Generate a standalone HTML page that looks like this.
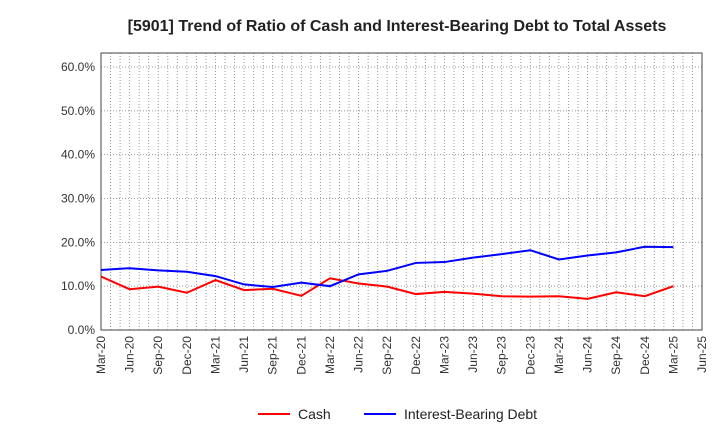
<!DOCTYPE html>
<html><head><meta charset="utf-8"><style>
body{margin:0;background:#fff;font-family:"Liberation Sans",sans-serif;}
</style></head><body>
<svg id="chart" width="720" height="440" xmlns="http://www.w3.org/2000/svg">
<text x="397" y="31" text-anchor="middle" font-size="16" font-weight="bold" fill="#222">[5901]  Trend of Ratio of Cash and Interest-Bearing Debt to Total Assets</text>
<g id="grid"></g>
<g id="axes"></g>
<g id="series"></g>
<g>
<line x1="258" y1="414" x2="290" y2="414" stroke="#f00" stroke-width="2"/>
<text x="298" y="419" font-size="14" fill="#222">Cash</text>
<line x1="364" y1="414" x2="396" y2="414" stroke="#00f" stroke-width="2"/>
<text x="404" y="419" font-size="14" fill="#222">Interest-Bearing Debt</text>
</g>
</svg>
<script>
const xLabels=["Mar-20","Jun-20","Sep-20","Dec-20","Mar-21","Jun-21","Sep-21","Dec-21","Mar-22","Jun-22","Sep-22","Dec-22","Mar-23","Jun-23","Sep-23","Dec-23","Mar-24","Jun-24","Sep-24","Dec-24","Mar-25","Jun-25"];
const yTicks=[0,10,20,30,40,50,60];
const cash=[12.2,9.3,9.9,8.5,11.4,9.1,9.4,7.8,11.8,10.6,9.9,8.2,8.7,8.3,7.7,7.6,7.7,7.1,8.6,7.7,10.0];
const debt=[13.7,14.1,13.6,13.3,12.3,10.4,9.8,10.8,10.0,12.7,13.5,15.3,15.5,16.5,17.3,18.2,16.1,17.0,17.7,19.0,18.9];
const L=101,R=702,T=53,B=330,NS="http://www.w3.org/2000/svg";
const xs=i=>L+(R-L)*i/(xLabels.length-1);
const ys=v=>B-(B-67)*v/60;
function mk(tag,attrs,parent){const e=document.createElementNS(NS,tag);for(const k in attrs)e.setAttribute(k,attrs[k]);document.getElementById(parent).appendChild(e);return e;}
for(let m=1;m<(xLabels.length-1)*3;m++){const x=L+(R-L)*m/((xLabels.length-1)*3);
const g=mk('line',{x1:x,y1:T,x2:x,y2:B,stroke:'#999','stroke-width':1,'stroke-dasharray':'1,2'},'grid');

}
yTicks.forEach(v=>{const y=ys(v);
const g=mk('line',{x1:L,y1:y,x2:R,y2:y,stroke:'#999','stroke-width':1,'stroke-dasharray':'1,2'},'grid');


const t=mk('text',{x:L-6,y:y+4,'text-anchor':'end','font-size':12,fill:'#333'},'axes');t.textContent=v.toFixed(1)+'%';

});
const fr=mk('rect',{x:L,y:T,width:R-L,height:B-T,fill:'none',stroke:'#444','stroke-width':1},'axes');


xLabels.forEach((s,i)=>{const x=xs(i);
const t=mk('text',{x:x+4,y:B+6,'text-anchor':'end','font-size':12,fill:'#333',transform:`rotate(-90 ${x+4} ${B+6})`},'axes');t.textContent=s;

});
function line(d,c,n){const p=mk('polyline',{points:d.map((v,i)=>xs(i)+','+ys(v)).join(' '),fill:'none',stroke:c,'stroke-width':2},'series');

}
line(cash,'#f00','cash-line');line(debt,'#00f','debt-line');
</script>
</body></html>
